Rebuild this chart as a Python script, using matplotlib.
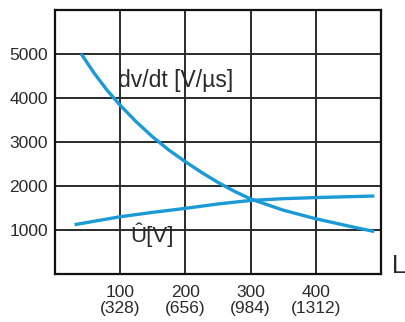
import matplotlib
matplotlib.use("Agg")
import matplotlib.pyplot as plt

plt.rcParams['font.family'] = ['Liberation Sans', 'DejaVu Sans']

# cable length L in m
dvdt_x = [40, 60, 80, 100, 125, 150, 175, 200, 225, 250, 275, 300, 350, 400, 450, 490]
dvdt_y = [5000, 4560, 4170, 3830, 3450, 3110, 2810, 2550, 2305, 2080, 1880, 1705, 1450, 1255, 1090, 965]

u_x = [30, 100, 150, 200, 250, 300, 350, 400, 450, 490]
u_y = [1120, 1300, 1400, 1490, 1590, 1670, 1710, 1735, 1755, 1770]

x_ticks = [0, 100, 200, 300, 400, 500]
x_labels = ["", "100\n(328)", "200\n(656)", "300\n(984)", "400\n(1312)", ""]
y_ticks = [0, 1000, 2000, 3000, 4000, 5000, 6000]
y_labels = ["", "1000", "2000", "3000", "4000", "5000", ""]

line_color = "#1b9ad6"
grid_color = "#2a2a2a"
text_color = "#2a2a2a"

fig = plt.figure(figsize=(4.06, 3.22), dpi=100)
ax = fig.add_axes([0.1355, 0.149, 0.8025, 0.821])

ax.plot(dvdt_x, dvdt_y, color=line_color, lw=2.4, solid_capstyle='butt', zorder=3)
ax.plot(u_x, u_y, color=line_color, lw=2.4, solid_capstyle='butt', zorder=3)

ax.set_xlim(0, 500)
ax.set_ylim(0, 6000)
ax.set_xticks(x_ticks)
ax.set_xticklabels(x_labels, linespacing=1.1)
ax.set_yticks(y_ticks)
ax.set_yticklabels(y_labels)
ax.tick_params(length=0, labelsize=12.5, colors=text_color)
ax.tick_params(axis='x', pad=8)
ax.tick_params(axis='y', pad=5)
ax.grid(True, color=grid_color, lw=1.4)
for s in ax.spines.values():
    s.set_color("#111111")
    s.set_linewidth(1.6)

ax.text(97, 4250, "dv/dt [V/\u00b5s]", fontsize=16.5, color=text_color, va='baseline')
# precomposed U with circumflex
ax.text(115, 730, "\u00db[V]", fontsize=16, color=text_color, va='baseline')
fig.text(392 / 406, 1 - 273 / 322, "L", fontsize=18, color=text_color, va='baseline')

plt.savefig("out.png", dpi=100)
plt.close()
